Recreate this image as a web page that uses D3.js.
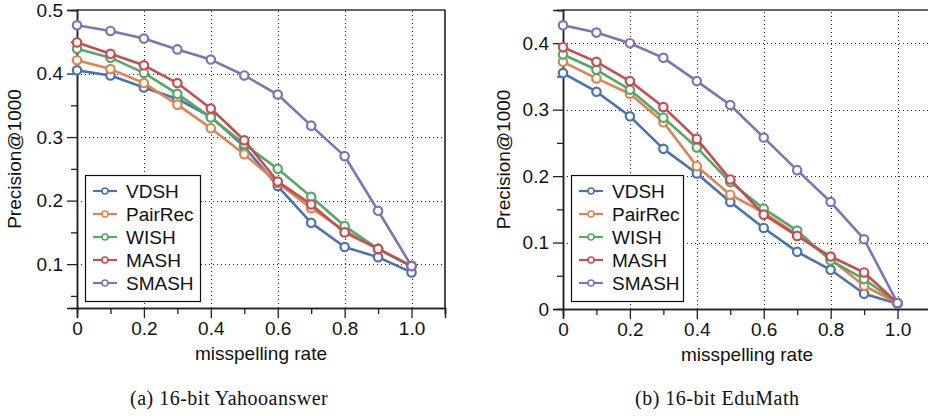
<!DOCTYPE html>
<html><head><meta charset="utf-8">
<script src="https://cdn.jsdelivr.net/npm/d3@7"></script>
<style>
html,body{margin:0;padding:0;background:#fff;}
svg{display:block;}
.t{font-family:"Liberation Sans",Arial,Helvetica,sans-serif;font-size:19px;fill:#111;}
.cap{font-family:"Liberation Serif","Times New Roman",serif;font-size:20px;fill:#111;letter-spacing:0.5px;}
</style></head>
<body>
<svg id="c" width="928" height="416"></svg>
<script>
const rates = [0,0.1,0.2,0.3,0.4,0.5,0.6,0.7,0.8,0.9,1.0];
const methods = ["VDSH","PairRec","WISH","MASH","SMASH"];
const colors = ["#4c72b0","#dd8452","#55a868","#c44e52","#8172b2"];

// (a) 16-bit Yahooanswer
const yahooVDSH    = [0.405,0.397,0.378,0.360,0.332,0.285,0.223,0.165,0.127,0.111,0.087];
const yahooPairRec = [0.421,0.407,0.385,0.351,0.314,0.273,0.228,0.188,0.153,0.124,0.097];
const yahooWISH    = [0.439,0.425,0.401,0.368,0.331,0.289,0.250,0.206,0.160,0.124,0.097];
const yahooMASH    = [0.449,0.431,0.413,0.385,0.345,0.295,0.230,0.194,0.150,0.124,0.097];
const yahooSMASH   = [0.476,0.467,0.455,0.438,0.422,0.397,0.367,0.318,0.270,0.184,0.097];

// (b) 16-bit EduMath
const eduVDSH    = [0.355,0.327,0.290,0.241,0.204,0.161,0.122,0.086,0.059,0.023,0.008];
const eduPairRec = [0.372,0.347,0.324,0.281,0.215,0.172,0.145,0.112,0.075,0.035,0.009];
const eduWISH    = [0.383,0.360,0.330,0.288,0.243,0.191,0.151,0.118,0.073,0.045,0.009];
const eduMASH    = [0.394,0.372,0.343,0.304,0.256,0.195,0.142,0.110,0.079,0.055,0.009];
const eduSMASH   = [0.427,0.416,0.400,0.378,0.343,0.307,0.258,0.209,0.161,0.105,0.009];

const xTickVals = [0,0.2,0.4,0.6,0.8,1.0];
const xTickLabels = ["0","0.2","0.4","0.6","0.8","1.0"];
const xMinorVals = [0.1,0.3,0.5,0.7,0.9,1.1];

const yahooYTicks = [0.1,0.2,0.3,0.4,0.5];
const yahooYLabels = ["0.1","0.2","0.3","0.4","0.5"];
const yahooYMinor = [0.05,0.15,0.25,0.35,0.45];
const eduYTicks = [0,0.1,0.2,0.3,0.4];
const eduYLabels = ["0","0.1","0.2","0.3","0.4"];
const eduYMinor = [0.05,0.15,0.25,0.35,0.45];

const captions = ["(a) 16-bit Yahooanswer","(b) 16-bit EduMath"];
const xTitle = "misspelling rate";
const yTitle = "Precision@1000";

const svg = d3.select("#c");

function panel(cfg){
  const g = svg.append("g");
  const x = d3.scaleLinear().domain([0,1.1]).range([cfg.left, cfg.left + 368]);
  const y = d3.scaleLinear().domain(cfg.yDomain).range([cfg.bottom, 10]);
  const x0 = x.range()[0], x1 = x.range()[1], y0 = y.range()[0], y1 = y.range()[1];

  // grid
  const grid = g.append("g").attr("stroke","#222").attr("stroke-width",1).attr("stroke-dasharray","1,3");
  grid.selectAll("line.gx").data(xTickVals.filter(v=>v>0)).join("line")
    .attr("x1",d=>Math.round(x(d))+0.5).attr("x2",d=>Math.round(x(d))+0.5).attr("y1",y0).attr("y2",y1);
  grid.selectAll("line.gy").data(cfg.yTicks.filter(v=>y(v)<y0-2 && y(v)>y1+2)).join("line")
    .attr("y1",d=>Math.round(y(d))+0.5).attr("y2",d=>Math.round(y(d))+0.5).attr("x1",x0).attr("x2",x1);

  // frame top/right
  g.append("line").attr("x1",x0).attr("x2",x1).attr("y1",y1).attr("y2",y1).attr("stroke","#333").attr("stroke-width",1.5);
  g.append("line").attr("x1",x1).attr("x2",x1).attr("y1",y1).attr("y2",y0).attr("stroke","#111").attr("stroke-width",1.5);

  // axes
  const xAxis = d3.axisBottom(x).tickValues(xTickVals).tickFormat((d,i)=>xTickLabels[i]).tickSize(10).tickPadding(4);
  g.append("g").attr("transform",`translate(0,${y0})`).call(xAxis);
  const xMinor = d3.axisBottom(x).tickValues(xMinorVals).tickFormat("").tickSize(6);
  g.append("g").attr("transform",`translate(0,${y0})`).call(xMinor);
  const yAxis = d3.axisLeft(y).tickValues(cfg.yTicks).tickFormat((d,i)=>cfg.yLabels[i]).tickSize(10).tickPadding(4);
  g.append("g").attr("transform",`translate(${x0},0)`).call(yAxis);
  const yMinor = d3.axisLeft(y).tickValues(cfg.yMinor).tickFormat("").tickSize(6);
  g.append("g").attr("transform",`translate(${x0},0)`).call(yMinor);
  g.selectAll(".domain").attr("stroke","#222").attr("stroke-width",1.5);
  g.selectAll(".tick line").attr("stroke","#222").attr("stroke-width",1.3);
  g.selectAll(".tick text").attr("class","t").attr("font-family",null).attr("font-size",null).attr("fill","#111");

  // series
  const line = d3.line().x((d,i)=>x(rates[i])).y(d=>y(d));
  cfg.series.forEach((s,k)=>{
    g.append("path").datum(s).attr("d",line).attr("fill","none")
      .attr("stroke",colors[k]).attr("stroke-width",2.6).attr("stroke-linejoin","round");
    g.selectAll(null).data(s).join("circle")
      .attr("cx",(d,i)=>x(rates[i])).attr("cy",d=>y(d)).attr("r",4.2)
      .attr("fill","#fff").attr("stroke",colors[k]).attr("stroke-width",2.2);
  });

  // legend
  const lx = x0 + 8, ly = 175;
  const lg = g.append("g");
  lg.append("rect").attr("x",lx+0.5).attr("y",ly+0.5).attr("width",cfg.legW).attr("height",126)
    .attr("fill","#fff").attr("stroke","#111").attr("stroke-width",1.2);
  methods.forEach((m,k)=>{
    const yy = ly + 16 + k*23;
    lg.append("line").attr("x1",lx+8).attr("x2",lx+32).attr("y1",yy).attr("y2",yy)
      .attr("stroke",colors[k]).attr("stroke-width",2.2);
    lg.append("circle").attr("cx",lx+20).attr("cy",yy).attr("r",3).attr("fill","#fff")
      .attr("stroke",colors[k]).attr("stroke-width",1.6);
    lg.append("text").attr("class","t").attr("x",lx+41).attr("y",yy+7).text(m);
  });

  // titles
  g.append("text").attr("class","t").attr("text-anchor","middle")
    .attr("x",(x0+x1)/2).attr("y",y0+52).text(xTitle);
  g.append("text").attr("class","t").attr("text-anchor","middle")
    .attr("transform",`translate(${cfg.yTitleX},${(y0+y1)/2}) rotate(-90)`).text(yTitle);
  g.append("text").attr("class","cap").attr("text-anchor","start").attr("xml:space","preserve")
    .attr("x",cfg.capX).attr("y",405).text(cfg.caption);
}

panel({left:77, bottom:308, yDomain:[0.031,0.5], yTicks:yahooYTicks, yLabels:yahooYLabels, yMinor:yahooYMinor,
  series:[yahooVDSH,yahooPairRec,yahooWISH,yahooMASH,yahooSMASH], legW:115, yTitleX:21, capX:130, caption:captions[0]});
panel({left:563, bottom:309, yDomain:[0,0.45], yTicks:eduYTicks, yLabels:eduYLabels, yMinor:eduYMinor,
  series:[eduVDSH,eduPairRec,eduWISH,eduMASH,eduSMASH], legW:112, yTitleX:510, capX:635, caption:captions[1]});
</script>
</body></html>
